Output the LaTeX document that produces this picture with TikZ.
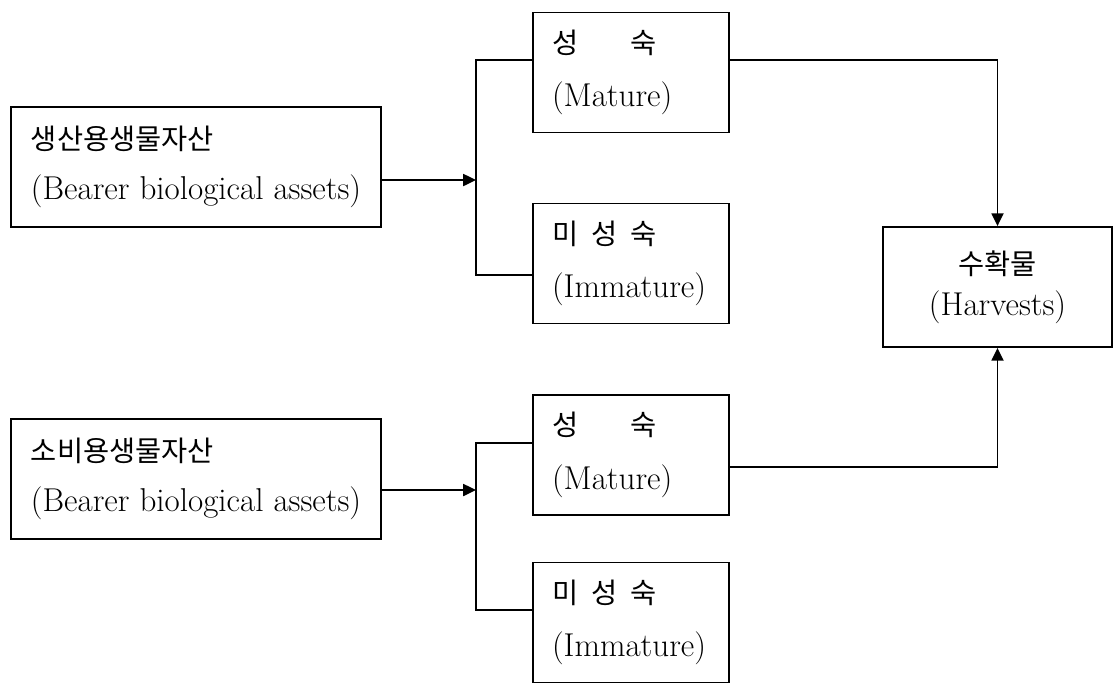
\documentclass[tikz,border=0pt]{standalone}
\usepackage{fontspec}
\newfontfamily\korfont[Scale=0.86]{Noto Sans CJK KR}
\usetikzlibrary{arrows.meta, positioning, calc}
\newcommand{\kr}[1]{{\korfont #1}}

\begin{document}
\begin{tikzpicture}[
    % Node styles
    assetbox/.style={rectangle, draw=black, line width=1.3pt, minimum width=9.25cm, minimum height=3cm, align=left, inner sep=0pt, font=\fontsize{23.5}{36}\selectfont},
    stagebox/.style={rectangle, draw=black, line width=1.3pt, minimum width=4.9cm, minimum height=3cm, text width=3.95cm, inner xsep=0.475cm, inner ysep=0pt, align=left, font=\fontsize{23.5}{38}\selectfont},
    harvestbox/.style={rectangle, draw=black, line width=1.3pt, minimum width=5.725cm, minimum height=3cm, inner sep=0pt, align=center, font=\fontsize{23.5}{29}\selectfont},
    link/.style={line width=1.3pt, black},
    arrow/.style={link, -{Triangle[length=0.32cm, width=0.3cm]}},
]
\useasboundingbox (0,0) rectangle (27.85,-17.075);

% === LEFT: asset groups ===
\node[assetbox] (bearer) at (4.9, -4.175) {\kr{생산용생물자산}\\(Bearer biological assets)};
\node[assetbox] (consumable) at (4.9, -11.975) {\kr{소비용생물자산}\\(Bearer biological assets)};

% === CENTER: stages ===
\node[stagebox] (mature1) at (15.775, -1.8125) {\kr{성\hspace{1.3cm}숙}\\(Mature)};
\node[stagebox] (immature1) at (15.775, -6.5875) {\kr{미\hspace{0.33cm}성\hspace{0.33cm}숙}\\(Immature)};
\node[stagebox] (mature2) at (15.775, -11.375) {\kr{성\hspace{1.3cm}숙}\\(Mature)};
\node[stagebox] (immature2) at (15.775, -15.5625) {\kr{미\hspace{0.33cm}성\hspace{0.33cm}숙}\\(Immature)};

% === RIGHT: harvests ===
\node[harvestbox] (harvests) at (24.9375, -7.175) {\kr{수확물}\\(Harvests)};

% Split points
\coordinate (split1) at (11.9, -4.5);
\coordinate (split2) at (11.9, -12.25);

% === Arrows ===
\draw[arrow] (split1 -| bearer.east) -- (split1);
\draw[link] ([yshift=0.3125cm]mature1.west) -| (split1) |- ([yshift=-0.2875cm]immature1.west);
\draw[arrow] ([yshift=0.3125cm]mature1.east) -| (harvests.north);

\draw[arrow] (split2 -| consumable.east) -- (split2);
\draw[link] ([yshift=0.3cm]mature2.west) -| (split2) |- ([yshift=0.3125cm]immature2.west);
\draw[arrow] ([yshift=-0.3cm]mature2.east) -| (harvests.south);

\end{tikzpicture}
\end{document}
